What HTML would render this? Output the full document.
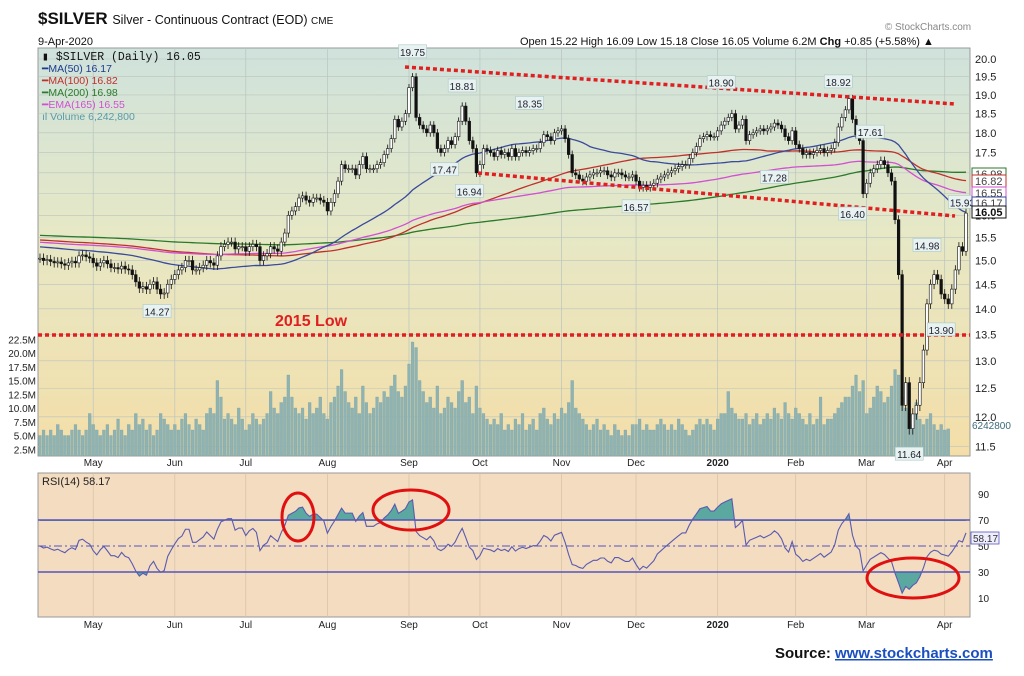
<!DOCTYPE html>
<html><head><meta charset="utf-8"><style>
body{margin:0;background:#fff;}
svg{display:block;font-family:"Liberation Sans",sans-serif;}
</style></head><body>
<svg id="c" width="1024" height="676" viewBox="0 0 1024 676" xmlns="http://www.w3.org/2000/svg">
<defs>
<linearGradient id="bgMain" x1="0" y1="0" x2="0" y2="1">
<stop offset="0" stop-color="#cfe2dc"/><stop offset="0.45" stop-color="#e6e8c6"/><stop offset="1" stop-color="#f4dea8"/>
</linearGradient>
<clipPath id="clipMain"><rect x="38" y="48" width="932" height="408"/></clipPath>
<clipPath id="clipAbove"><rect x="38" y="473" width="932" height="48"/></clipPath>
<clipPath id="clipBelow"><rect x="38" y="572" width="932" height="45"/></clipPath>
</defs>
<text x="38" y="24" font-size="17" font-weight="bold" fill="#111">$SILVER <tspan font-size="12.5" font-weight="normal">Silver - Continuous Contract (EOD) <tspan font-size="10">CME</tspan></tspan></text>
<text x="38" y="45" font-size="11" fill="#111">9-Apr-2020</text>
<text x="928" y="30" font-size="10" fill="#888" text-anchor="middle">© StockCharts.com</text>
<text x="520" y="45" font-size="11" fill="#111">Open 15.22  High 16.09  Low 15.18  Close 16.05  Volume 6.2M  <tspan font-weight="bold">Chg</tspan> +0.85 (+5.58%) ▲</text>
<rect x="38" y="48" width="932" height="408" fill="url(#bgMain)" stroke="#999"/>
<rect x="38" y="473" width="932" height="144" fill="#f3dcc0" stroke="#999"/>
<g id="grid"></g>
<g id="vol" clip-path="url(#clipMain)"></g>
<g id="mas" clip-path="url(#clipMain)"></g>
<g id="candles" clip-path="url(#clipMain)"></g>
<g id="ann"></g>
<g id="axes"></g>
<g id="rsi"></g>
<g font-size="10.5">
<text x="42" y="60" fill="#111" font-family="Liberation Mono,monospace" font-size="11.5">▮ $SILVER (Daily) 16.05</text>
<text x="42" y="72" fill="#1b3a8c">━MA(50) 16.17</text>
<text x="42" y="84" fill="#c0302a">━MA(100) 16.82</text>
<text x="42" y="96" fill="#2a7a2a">━MA(200) 16.98</text>
<text x="42" y="108" fill="#d24fd2">━EMA(165) 16.55</text>
<text x="42" y="120" fill="#5a9aa8">ıl Volume 6,242,800</text>
</g>
<text x="775" y="658" font-size="15" font-weight="bold" fill="#111">Source: <tspan fill="#1a4fc0" text-decoration="underline">www.stockcharts.com</tspan></text>
</svg>
<script>
const closes=[15.05,15.00,15.02,
14.98,14.95,14.97,14.93,14.90, 14.95,14.98,14.95,15.10,15.12, 15.08,15.05,14.95,14.88,14.95,
15.00,14.93,14.85,14.85,14.82, 14.88,14.82,14.80,14.70,14.55, 14.42,14.45,14.40,14.50,14.55,
14.40,14.30,14.32,14.50,14.60, 14.70,14.80,14.85,15.00,15.00, 14.80,14.80,14.85,14.90,15.00,
14.95,14.90,15.10,15.30,15.35, 15.40,15.40,15.25,15.30,15.30, 15.20,15.30,15.35,15.30,15.00,
15.10,15.15,15.30,15.25,15.20, 15.40,15.60,16.00,16.10,16.20, 16.40,16.45,16.35,16.30,16.40,
16.40,16.35,16.30,16.10,16.30, 16.50,16.80,17.20,17.10,17.10, 17.10,16.95,17.20,17.40,17.10,
17.10,17.10,17.20,17.25,17.45, 17.60,17.85,18.35,18.15,18.30, 18.50,19.20,19.50,18.40,18.20,
18.10,18.00,18.20,18.00,17.60, 17.50,17.60,17.80,17.70,17.90, 18.30,18.70,18.30,17.80,17.60,
17.00,17.20,17.60,17.55,17.50, 17.40,17.55,17.45,17.50,17.40, 17.60,17.40,17.50,17.55,17.50,
17.55,17.60,17.60,17.75,17.95, 17.90,17.80,18.00,18.05,18.10, 17.85,17.45,17.00,16.95,16.85,
16.80,16.90,16.95,17.00,17.00, 17.05,17.05,16.95,16.90,17.00, 17.00,16.95,16.90,16.90,16.95,
16.80,16.65,16.70,16.65,16.70, 16.75,16.85,16.90,16.95,17.00, 17.05,17.10,17.15,17.20,17.20,
17.35,17.50,17.65,17.85,17.90, 17.95,17.90,17.90,18.05,18.20, 18.30,18.40,18.50,18.10,18.20,
18.35,17.80,17.95,18.00,18.05, 18.10,18.05,18.10,18.15,18.25, 18.20,18.10,17.90,17.80,18.05,
17.70,17.60,17.45,17.50,17.45, 17.50,17.55,17.60,17.50,17.55, 17.60,17.75,18.15,18.40,18.60,
18.90,18.35,17.95,17.80,16.50, 16.75,17.00,17.10,17.20,17.30, 17.20,17.00,16.80,15.90,14.70,
12.20,12.60,11.80,12.05,12.20, 12.60,13.20,14.10,14.50,14.70, 14.60,14.30,14.20,14.10,14.40,
14.80,15.30,15.20,16.05];
const volumes=[5,6,5, 6,5,7,6,5, 5,6,7,6,5, 6,9,7,6,5,
6,7,5,6,8, 6,5,7,6,9, 7,8,6,7,5, 6,9,8,7,6, 7,6,8,9,7, 6,8,7,6,9,
10,9,15,12,8, 9,8,7,10,8, 6,7,9,8,7, 8,9,13,10,9, 11,12,16,12,10, 9,10,8,11,9,
10,12,9,8,11, 12,14,17,13,11, 10,12,9,14,11, 9,10,12,11,13, 12,14,16,13,12, 14,18,22,21,15,
13,11,12,10,14, 9,10,12,11,10, 13,15,11,12,9, 14,10,9,8,7, 8,7,9,6,7, 6,8,7,9,6,
7,8,6,9,10, 8,7,9,8,10, 9,11,15,10,9, 8,7,6,7,8, 6,7,6,5,7, 6,5,6,5,7,
7,8,6,7,6, 6,7,8,7,6, 7,6,8,7,6, 5,6,7,8,7, 8,7,6,8,9, 9,13,10,9,8,
8,9,7,8,9, 7,8,9,8,10, 9,8,11,9,8, 10,9,8,7,9, 7,8,12,7,8, 8,9,10,11,12,
12,14,16,13,15, 9,10,12,14,13, 11,12,14,17,16, 12,10,9,7,11, 8,7,8,9,7,
6,7,6,6.2];
const priceTicks=[11.5,12.0,12.5,13.0,13.5,14.0,14.5,15.0,15.5,16.0,16.5,17.0,17.5,18.0,18.5,19.0,19.5,20.0];
const volTicks=[2.5,5,7.5,10,12.5,15,17.5,20,22.5];
const volTickLabels=["2.5M","5.0M","7.5M","10.0M","12.5M","15.0M","17.5M","20.0M","22.5M"];
const monthLabels=["May","Jun","Jul","Aug","Sep","Oct","Nov","Dec","2020","Feb","Mar","Apr"];
const monthStartIdx=[15,38,58,81,104,124,147,168,191,213,233,255];
const rsiTicks=[10,30,50,70,90];
const peakLabels=["19.75","18.81","17.47","18.35","16.94","16.57","18.90","17.28","18.92","17.61","16.40","14.27","14.98","13.90","11.64","15.93"];
const peakIdx=[105,119,114,138,121,168,192,207,225,234,229,33,250,254,245,260];
const peakValues=[19.75,18.81,17.47,18.35,16.94,16.57,18.90,17.28,18.92,17.61,16.40,14.27,14.98,13.90,11.64,15.93];
const peakAbove=[1,1,0,1,0,0,1,0,1,1,0,0,1,0,0,1];

const NS="http://www.w3.org/2000/svg";
const X0=40,X1=966,N=closes.length;
const xS=i=>X0+i*(X1-X0)/(N-1);
const yP=p=>59+(Math.log10(20)-Math.log10(p))*1613;
const yV=v=>463-v*5.5;
const yR=r=>546-(r-50)*1.3;
function mk(tag,attrs,parent){const e=document.createElementNS(NS,tag);for(const k in attrs)e.setAttribute(k,attrs[k]);parent.appendChild(e);return e;}
const G=id=>document.getElementById(id);

const grid=G('grid'),axes=G('axes');
monthStartIdx.forEach((idx,k)=>{
  const x=xS(idx);
  const l=mk('line',{x1:x,x2:x,y1:48,y2:456,stroke:'#b9c4c0','stroke-width':0.7},grid);
  
  
  mk('line',{x1:x,x2:x,y1:473,y2:617,stroke:'#d6c0a6','stroke-width':0.7},grid);
  [466,628].forEach(yy=>{
    const t=mk('text',{x:x,y:yy,'font-size':10,'text-anchor':'middle',fill:'#222','font-weight':monthLabels[k]==='2020'?'bold':'normal'},axes);
    t.textContent=monthLabels[k];
    
    
  });
});
priceTicks.forEach(p=>{
  const y=yP(p);
  mk('line',{x1:38,x2:970,y1:y,y2:y,stroke:'#b9c4c0','stroke-width':0.6},grid);
  const t=mk('text',{x:975,y:y+4,'font-size':11,fill:'#222'},axes);
  t.textContent=p.toFixed(1);
  
  
});
volTicks.forEach((v,k)=>{
  const t=mk('text',{x:36,y:yV(v)+4,'font-size':10,fill:'#222','text-anchor':'end'},axes);
  t.textContent=volTickLabels[k];
  
  
});
const vol=G('vol'),bw=(X1-X0)/(N-1);
volumes.forEach((v,i)=>{
  const r=mk('rect',{x:xS(i)-bw*0.4,y:yV(v),width:bw*0.8,height:456-yV(v),fill:'#8fb3b3',stroke:'#7aa0a0','stroke-width':0.3},vol);
  
  
});
function sma(n){return closes.map((c,i)=>{const s=closes.slice(Math.max(0,i-n+1),i+1);return s.reduce((a,b)=>a+b,0)/s.length;});}
function ema(n){const k=2/(n+1);let e=15.4;return closes.map(c=>e=c*k+e*(1-k));}
function seeded(arr,seed,n){return arr.map((v,i)=>{const w=Math.min(i+1,n);return (v*w+seed*(n-w))/n;});}
const ma50=seeded(sma(50),15.3,50),ma100=seeded(sma(100),15.45,100),ma200=seeded(sma(200),15.55,200),ema165=ema(165);
const mas=G('mas');
[[ma200,'#2a7a2a','ma200-line'],[ma100,'#c0302a','ma100-line'],[ema165,'#d24fd2','ema165-line'],[ma50,'#3a4a9c','ma50-line']].forEach(([a,c,n])=>{
  const p=mk('polyline',{points:a.map((v,i)=>xS(i)+','+yP(v)).join(' '),fill:'none',stroke:c,'stroke-width':1.3},mas);
  
  
});
const cg=G('candles');
closes.forEach((c,i)=>{
  const o=i?closes[i-1]:c,hi=Math.max(o,c)+0.1,lo=Math.min(o,c)-0.1,x=xS(i);
  const g=mk('g',{},cg);
  
  
  mk('line',{x1:x,x2:x,y1:yP(hi),y2:yP(lo),stroke:'#111','stroke-width':0.8},g);
  const top=yP(Math.max(o,c)),bot=yP(Math.min(o,c));
  mk('rect',{x:x-1.3,y:top,width:2.6,height:Math.max(1,bot-top),fill:c>=o?'#fff':'#111',stroke:'#111','stroke-width':0.6},g);
});
const ann=G('ann');
const rl=(x1,y1,x2,y2,n)=>{const l=mk('line',{x1,y1,x2,y2,stroke:'#e02020','stroke-width':3.5,'stroke-dasharray':'4 3'},ann);};
rl(405,67,955,104,'upper-trendline');
rl(478,173,955,216,'lower-trendline');
rl(38,335,970,335,'2015-low-line');
const lt=mk('text',{x:275,y:326,'font-size':16,'font-weight':'bold',fill:'#e02020'},ann);lt.textContent='2015 Low';


peakLabels.forEach((s,k)=>{
  const x=xS(peakIdx[k]),y=yP(peakValues[k])+(peakAbove[k]?-16:16);
  const g=mk('g',{},ann);
  
  
  mk('rect',{x:x-14,y:y-7,width:28,height:13,fill:'#e8f2f0',stroke:'#a8c8c8','stroke-width':0.6},g);
  const t=mk('text',{x:x,y:y+4,'font-size':10,'text-anchor':'middle',fill:'#223'},g);t.textContent=s;
});
const tagText=["16.98","16.82","16.55","16.17","16.05"],tagCol=['#2a7a2a','#c0302a','#d24fd2','#3a4a9c','#111'],tagY=[174,181,193,203,212];
tagText.forEach((s,k)=>{
  const g=mk('g',{},axes);
  
  
  mk('rect',{x:972,y:tagY[k]-6,width:34,height:12,fill:'#fff',stroke:tagCol[k],'stroke-width':1},g);
  const t=mk('text',{x:975,y:tagY[k]+4,'font-size':11,fill:k==4?'#111':'#444','font-weight':k==4?'bold':'normal'},g);t.textContent=s;
});
const vt=mk('text',{x:972,y:429,'font-size':10,fill:'#3a6a7a'},axes);vt.textContent='6242800';


// RSI (Wilder, seeded)
const rsiV=[];let ag=0.06,al=0.06;
closes.forEach((c,i)=>{
  if(i>0){const d=c-closes[i-1];ag=(ag*13+Math.max(d,0))/14;al=(al*13+Math.max(-d,0))/14;}
  rsiV.push(100-100/(1+ag/al));
});
const rg=G('rsi');
rsiTicks.forEach(r=>{
  const t=mk('text',{x:978,y:yR(r)+4,'font-size':10,fill:'#222'},rg);t.textContent=r;
  
  
});
const pts=rsiV.map((r,i)=>xS(i)+','+yR(r)).join(' ');
mk('polygon',{points:xS(0)+','+yR(70)+' '+pts+' '+xS(N-1)+','+yR(70),fill:'#5aa8a0','clip-path':'url(#clipAbove)'},rg);
mk('polygon',{points:xS(0)+','+yR(30)+' '+pts+' '+xS(N-1)+','+yR(30),fill:'#5aa8a0','clip-path':'url(#clipBelow)'},rg);
[70,30].forEach(r=>mk('line',{x1:38,x2:970,y1:yR(r),y2:yR(r),stroke:'#5555bb','stroke-width':1.5},rg));
mk('line',{x1:38,x2:970,y1:yR(50),y2:yR(50),stroke:'#5555bb','stroke-width':1,'stroke-dasharray':'8 3 2 3'},rg);
const rl2=mk('polyline',{points:pts,fill:'none',stroke:'#5a5ab0','stroke-width':1.1},rg);


const rt=mk('text',{x:42,y:485,'font-size':11,fill:'#222'},rg);rt.textContent='RSI(14) 58.17';


const rtag=mk('rect',{x:971,y:532,width:28,height:12,fill:'#eef',stroke:'#5555bb','stroke-width':0.8},rg);


const rtt=mk('text',{x:973,y:542,'font-size':10,fill:'#333'},rg);rtt.textContent='58.17';
[[298,517,16,24],[411,510,38,20],[913,578,46,20]].forEach(([cx,cy,rx,ry])=>{
  const e=mk('ellipse',{cx,cy,rx,ry,fill:'none',stroke:'#e01010','stroke-width':3},rg);
  
  
});
</script>
</body></html>
